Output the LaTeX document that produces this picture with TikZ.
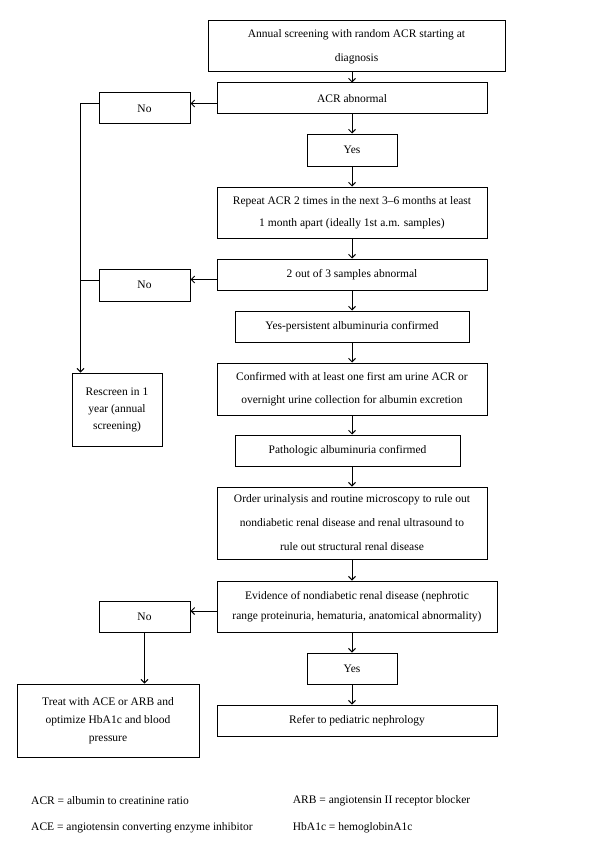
\documentclass[tikz,border=0pt]{standalone}
\usepackage{fontspec}
\setmainfont{Liberation Serif}
\usetikzlibrary{arrows.meta,calc}
\tikzset{
  box/.style={draw, line width=1pt, align=center, inner sep=0pt},
  lsk/.style={font=\fontsize{11.5}{#1}\selectfont},
  arr/.style={line width=1pt, -{Straight Barb[length=3.5pt,width=7pt]}},
  ln/.style={line width=1pt},
  leg/.style={anchor=west, inner sep=0pt, font=\fontsize{11.5}{13}\selectfont}
}
\begin{document}
\begin{tikzpicture}[x=1pt,y=-1pt]
\useasboundingbox (0,0) rectangle (600,864);
\node[box,lsk=24,minimum width=297,minimum height=51] (b1) at (356.5,46.5) {Annual screening with random ACR starting at\\diagnosis};
\node[box,lsk=14,minimum width=270,minimum height=31] (b2) at (352,98.5) {ACR abnormal};
\node[box,lsk=14,minimum width=91,minimum height=31] (no1) at (144.5,108.5) {No};
\node[box,lsk=14,minimum width=90,minimum height=32] (yes1) at (352,150) {Yes};
\node[box,lsk=22,minimum width=270,minimum height=51] (rep) at (352,212.5) {Repeat ACR 2 times in the next 3--6 months at least\\1 month apart (ideally 1st a.m. samples)};
\node[box,lsk=14,minimum width=270,minimum height=31] (two) at (352,274.5) {2 out of 3 samples abnormal};
\node[box,lsk=14,minimum width=91,minimum height=32] (no2) at (144.5,285) {No};
\node[box,lsk=14,minimum width=234,minimum height=31] (yesp) at (352,326.5) {Yes-persistent albuminuria confirmed};
\node[box,lsk=23,minimum width=270,minimum height=52] (conf) at (352,389) {Confirmed with at least one first am urine ACR or\\overnight urine collection for albumin excretion};
\node[box,lsk=14,minimum width=225,minimum height=31] (path) at (347.5,450.5) {Pathologic albuminuria confirmed};
\node[box,lsk=24,minimum width=270,minimum height=72] (order) at (352,523) {Order urinalysis and routine microscopy to rule out\\nondiabetic renal disease and renal ultrasound to\\rule out structural renal disease};
\node[box,lsk=20,minimum width=280,minimum height=51] (evid) at (357,606.5) {Evidence of nondiabetic renal disease (nephrotic\\range proteinuria, hematuria, anatomical abnormality)};
\node[box,lsk=14,minimum width=91,minimum height=31] (no3) at (144.5,616.5) {No};
\node[box,lsk=14,minimum width=90,minimum height=31] (yes2) at (352,668.5) {Yes};
\node[box,lsk=14,minimum width=280,minimum height=31] (refer) at (357,720.5) {Refer to pediatric nephrology};
\node[box,lsk=17,minimum width=90,minimum height=73] (resc) at (117,409.5) {Rescreen in 1\\year (annual\\screening)};
\node[box,lsk=18,minimum width=182,minimum height=73] (treat) at (108,720.5) {Treat with ACE or ARB and\\optimize HbA1c and blood\\pressure};
\coordinate (lv) at ([xshift=9pt]resc.north west);
% vertical arrows
\draw[arr] (b1.south -| b2.north) -- (b2.north);
\draw[arr] (b2.south) -- (yes1.north);
\draw[arr] (yes1.south) -- (rep.north);
\draw[arr] (rep.south) -- (two.north);
\draw[arr] (two.south) -- (yesp.north);
\draw[arr] (yesp.south) -- (conf.north);
\draw[arr] (conf.south) -- (conf.south |- path.north);
\draw[arr] (order.north |- path.south) -- (order.north);
\draw[arr] (order.south) -- (order.south |- evid.north);
\draw[arr] (yes2.north |- evid.south) -- (yes2.north);
\draw[arr] (yes2.south) -- (yes2.south |- refer.north);
\draw[arr] (no3.south) -- (no3.south |- treat.north);
% horizontal arrows
\draw[arr] ([yshift=-5pt]b2.west) -- ([yshift=-5pt]b2.west -| no1.east);
\draw[arr] ([yshift=-5pt]two.west) -- ([yshift=-5pt]two.west -| no2.east);
\draw[arr] ([yshift=-4.5pt]evid.west) -- ([yshift=-4.5pt]evid.west -| no3.east);
% left line
\draw[arr] ([yshift=5pt]no1.west) -| (lv);
\draw[ln] ([yshift=5pt]no2.west) -- ([yshift=5pt]no2.west -| lv);
% legend
\node[leg] (l1) at (31,801) {ACR = albumin to creatinine ratio};
\node[leg] (l2) at (31,828) {ACE = angiotensin converting enzyme inhibitor};
\node[leg] (l3) at (292.7,801) {ARB = angiotensin II receptor blocker};
\node[leg] (l4) at (292.7,828) {HbA1c = hemoglobinA1c};
\end{tikzpicture}
\end{document}
